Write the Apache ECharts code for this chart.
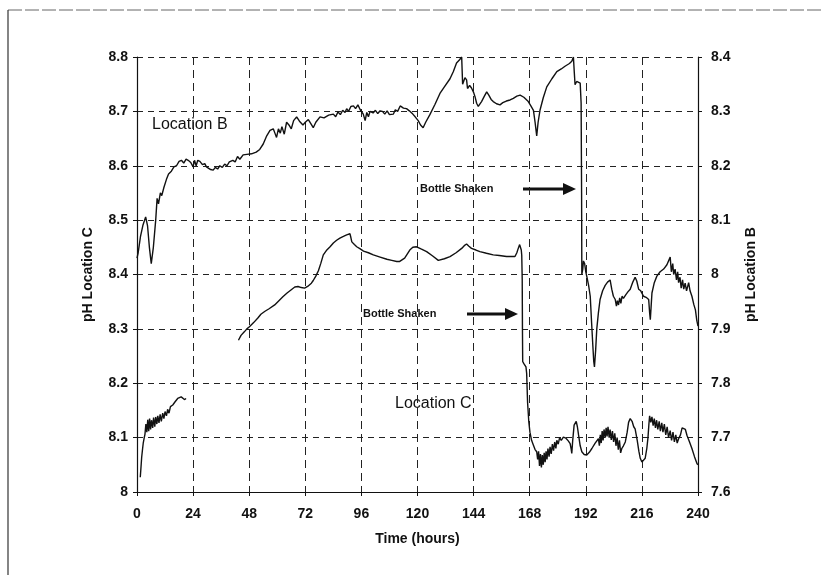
<!DOCTYPE html>
<html>
<head>
<meta charset="utf-8">
<script src="https://cdn.jsdelivr.net/npm/echarts@6/dist/echarts.min.js"></script>
<style>html,body{margin:0;padding:0;background:#fff}#c{width:821px;height:575px}</style>
</head>
<body>
<div id="c"></div>
<script>
// X ticks
const xTicks = [0, 24, 48, 72, 96, 120, 144, 168, 192, 216, 240];
// Location B (right axis, pH units of the right axis)
const timeB = [0,0.5,1.5,2.5,3.7,4.5,5.3,6.1,7,8,8.6,9.2,10,10.6,11.5,12.6,13.5,14.7,15.8,16.9,18,19,20,21,21.9,23,24,24.6,25.3,26,26.9,28,29,29.7,30.5,31.5,32.6,33.5,34.5,35.4,36.5,37.5,38.5,39.5,41,42,43,44,45.4,47,49,51,52.5,54,55.5,56.9,58.3,59,59.7,60.5,61.3,62,63,64,65,66,67,68.3,69.5,71,72,73.3,74.3,75.4,76.5,78.3,80,82,84,85,86,87,88,89,89.7,90.5,91.5,92.6,93.5,94.5,95.5,96,96.8,97.6,98.3,99,99.7,101,102,103,104,105,106,107,108,109.7,110.5,111.5,112.6,114,115.3,116.5,118,119,120.3,121.3,122.4,123.5,125.3,127.5,129.6,131.5,133.9,135.3,136.7,138,138.9,139.3,139.6,140.3,141,141.4,141.7,142.3,143.1,144,144.6,145.3,146,146.7,147.4,148.5,149.6,150.5,151.5,152.4,153.8,155.3,156.5,158,159.6,161,162.5,163.9,165.5,167.4,168.5,169.6,170.3,171,171.6,172.4,173.8,175.3,177.5,179.6,181.5,183.1,185,186,186.7,187.1,187.4,188.1,189.6,190,190.2,190.3,190.7,191,191.5,192,192.4,193.2,193.9,194.5,195,195.4,195.7,196.2,196.7,197.4,198.1,199.2,200.3,201.3,202.4,203.1,203.8,204.6,205.1,205.5,206,206.5,207,207.5,208.1,209,210,211,212,213.1,213.8,214.6,215.5,216.7,217.8,218.9,219.3,219.6,220,220.3,221.3,222.4,223.8,225.3,226.7,228.1,228.6,229.2,229.6,230.2,230.8,231.3,231.7,232.3,232.8,233.4,233.9,234.5,235.1,236,236.6,237.4,238.2,238.9,239.5,240];
const phB = [8.03,8.04,8.07,8.09,8.106,8.09,8.05,8.02,8.05,8.10,8.14,8.13,8.15,8.145,8.16,8.175,8.185,8.19,8.198,8.2,8.208,8.21,8.205,8.212,8.21,8.206,8.198,8.21,8.2,8.21,8.208,8.202,8.204,8.198,8.196,8.193,8.192,8.197,8.194,8.2,8.197,8.203,8.2,8.207,8.21,8.207,8.217,8.212,8.22,8.221,8.222,8.225,8.23,8.24,8.255,8.265,8.268,8.26,8.252,8.268,8.26,8.272,8.258,8.28,8.275,8.268,8.283,8.29,8.282,8.275,8.28,8.285,8.278,8.27,8.28,8.29,8.288,8.293,8.295,8.29,8.299,8.294,8.302,8.298,8.305,8.3,8.309,8.31,8.305,8.312,8.303,8.305,8.295,8.283,8.298,8.29,8.3,8.297,8.302,8.296,8.301,8.3,8.295,8.301,8.294,8.295,8.303,8.3,8.31,8.306,8.305,8.301,8.295,8.29,8.283,8.275,8.27,8.28,8.294,8.313,8.333,8.345,8.36,8.373,8.389,8.395,8.4,8.35,8.349,8.362,8.358,8.342,8.34,8.348,8.343,8.335,8.327,8.315,8.309,8.312,8.318,8.327,8.336,8.33,8.322,8.318,8.314,8.312,8.316,8.319,8.321,8.324,8.328,8.33,8.326,8.318,8.31,8.302,8.28,8.255,8.28,8.302,8.325,8.345,8.36,8.373,8.378,8.383,8.388,8.392,8.4,8.37,8.349,8.355,8.352,8.315,8.15,8.0,8.01,8.025,8.02,8.005,7.997,7.98,7.96,7.91,7.87,7.84,7.83,7.86,7.9,7.93,7.954,7.97,7.98,7.986,7.99,7.973,7.96,7.954,7.942,7.952,7.944,7.957,7.947,7.96,7.956,7.962,7.968,7.973,7.985,7.995,7.988,7.973,7.97,7.96,7.958,7.954,7.93,7.917,7.945,7.966,7.985,7.997,8.005,8.01,8.018,8.032,8.005,8.02,8.0,8.01,7.99,8.005,7.985,7.995,7.975,7.99,7.973,7.984,7.97,7.985,7.97,7.96,7.945,7.935,7.915,7.905];
// Location C (left axis); null marks the gap in the record
const timeC = [1.4,1.7,2,2.4,2.7,3.1,3.4,3.8,4.2,4.6,5,5.4,5.8,6.2,6.7,7.1,7.6,8,8.5,8.9,9.4,9.9,10.4,11,11.5,12,12.6,13.1,13.7,14.3,15.3,16.3,17.4,18.2,18.9,19.6,20.3,21,32,43.4,44.5,46,47,48.1,50,51.7,53,54.6,56.5,58.9,60.5,62.4,64.2,66,67.5,68.9,70.3,71.7,73,74.6,75.4,76.5,77.6,78.6,79.7,81,82.6,84,85.4,86.8,88.3,89.7,91.1,91.5,91.9,93,94,95.5,96.9,99,101.1,104,106.9,109,111.1,112.4,114.5,116.7,118,119.6,121.5,123.9,126.5,128.9,131.5,133.9,136.5,138.9,140,141,142,143.1,145,146.7,149.5,152.4,155,158.1,160,161.7,162.5,163.1,163.7,164.1,164.4,164.6,164.8,164.9,165,165.5,166,166.4,166.7,167.1,167.6,168.1,168.8,169.6,170.3,171,171.4,171.8,172.2,172.6,173,173.4,173.8,174.2,174.6,175,175.4,175.8,176.3,176.7,177.2,177.7,178.2,178.7,179.2,179.6,180.2,180.8,181.5,182.4,183.5,184.5,185.3,185.7,186,186.4,187,187.9,188.4,188.9,189.6,190.3,191.3,192.4,193.5,194.6,196,197.4,197.8,198.2,198.6,199,199.4,199.8,200.3,200.7,201.1,201.5,202,202.4,202.9,203.4,203.9,204.4,204.9,205.4,205.9,206.4,206.9,207.4,208.1,208.9,209.7,210.3,211,211.8,212.5,213.1,214,214.7,215.3,216,216.7,217.4,218.1,218.6,219,219.3,219.8,220.3,220.8,221.3,221.8,222.3,222.8,223.4,223.9,224.5,225,225.6,226.2,226.8,227.4,228.1,228.7,229.3,229.9,230.5,231.1,231.7,232.5,233.2,233.9,234.6,235.3,236.3,237.4,238.5,239.6,240];
const phC = [8.027,8.045,8.064,8.08,8.091,8.1,8.106,8.125,8.11,8.133,8.112,8.135,8.115,8.132,8.118,8.137,8.12,8.138,8.125,8.14,8.127,8.143,8.13,8.145,8.135,8.148,8.14,8.152,8.145,8.157,8.16,8.166,8.172,8.174,8.175,8.173,8.17,8.172,null,8.279,8.288,8.295,8.3,8.304,8.312,8.32,8.327,8.332,8.337,8.344,8.351,8.359,8.366,8.372,8.377,8.378,8.376,8.375,8.378,8.384,8.389,8.397,8.407,8.42,8.436,8.444,8.451,8.458,8.463,8.467,8.47,8.473,8.475,8.468,8.46,8.455,8.451,8.447,8.443,8.44,8.436,8.432,8.428,8.426,8.424,8.424,8.43,8.445,8.45,8.451,8.447,8.442,8.434,8.426,8.429,8.433,8.44,8.448,8.453,8.456,8.452,8.448,8.445,8.442,8.439,8.436,8.435,8.433,8.433,8.433,8.44,8.448,8.455,8.456,8.445,8.435,8.39,8.3,8.24,8.236,8.237,8.23,8.218,8.164,8.13,8.11,8.095,8.086,8.078,8.074,8.06,8.075,8.048,8.07,8.045,8.068,8.05,8.072,8.055,8.075,8.06,8.08,8.065,8.083,8.07,8.088,8.076,8.092,8.08,8.095,8.088,8.1,8.095,8.101,8.099,8.094,8.089,8.08,8.071,8.095,8.123,8.13,8.12,8.105,8.085,8.074,8.069,8.068,8.073,8.08,8.09,8.098,8.085,8.105,8.09,8.112,8.095,8.115,8.1,8.118,8.102,8.12,8.1,8.115,8.096,8.112,8.092,8.108,8.085,8.1,8.078,8.095,8.072,8.08,8.085,8.092,8.11,8.128,8.135,8.13,8.12,8.116,8.095,8.075,8.062,8.055,8.052,8.062,8.08,8.1,8.125,8.14,8.128,8.138,8.122,8.135,8.118,8.132,8.115,8.13,8.112,8.127,8.11,8.125,8.105,8.12,8.1,8.113,8.095,8.11,8.092,8.105,8.09,8.098,8.105,8.118,8.12,8.115,8.104,8.093,8.08,8.065,8.052,8.05];

const FONT = "'Liberation Sans', Arial, sans-serif";
const seriesB = timeB.map((t, i) => [t, phB[i]]);
const seriesC = timeC.map((t, i) => [t, phC[i]]);

const chart = echarts.init(document.getElementById('c'), null, {renderer: 'canvas'});
const gridDash = {type: [6, 5], color: '#222', width: 1};
const labelStyle = {color: '#111', fontFamily: FONT, fontWeight: 'bold', fontSize: 14};
chart.setOption({
  animation: false,
  backgroundColor: '#fff',
  grid: {left: 137, right: 123, top: 57, bottom: 83},
  xAxis: {
    type: 'value', min: xTicks[0], max: xTicks[xTicks.length - 1], interval: 24,
    name: 'Time (hours)', nameLocation: 'middle', nameGap: 40,
    nameTextStyle: labelStyle,
    axisLine: {lineStyle: {color: '#111', width: 1.2}},
    axisTick: {length: 4, lineStyle: {color: '#111'}},
    axisLabel: Object.assign({margin: 15}, labelStyle),
    splitLine: {show: true, lineStyle: {type: [8, 5], color: '#222', width: 1}}
  },
  yAxis: [{
    type: 'value', min: 8, max: 8.8, interval: 0.1, position: 'left',
    name: 'pH Location C', nameLocation: 'middle', nameGap: 42,
    nameTextStyle: labelStyle,
    axisLine: {show: true, lineStyle: {color: '#111', width: 1.2}},
    axisTick: {show: true, length: 4, lineStyle: {color: '#111'}},
    axisLabel: Object.assign({margin: 9}, labelStyle),
    splitLine: {show: true, lineStyle: gridDash}
  }, {
    type: 'value', min: 7.6, max: 8.4, interval: 0.1, position: 'right',
    name: 'pH Location B', nameLocation: 'middle', nameGap: 46, nameRotate: 90,
    nameTextStyle: labelStyle,
    axisLine: {show: true, lineStyle: {color: '#111', width: 1.2}},
    axisTick: {show: true, length: 4, lineStyle: {color: '#111'}},
    axisLabel: Object.assign({margin: 13}, labelStyle),
    splitLine: {show: false}
  }],
  series: [{
    name: 'Location B', type: 'line', yAxisIndex: 1, data: seriesB,
    showSymbol: false, symbol: 'none', lineStyle: {color: '#111', width: 1.4}
  }, {
    name: 'Location C', type: 'line', yAxisIndex: 0, data: seriesC,
    showSymbol: false, symbol: 'none', connectNulls: false, lineStyle: {color: '#111', width: 1.4}
  }],
  graphic: [
    {type: 'line', shape: {x1: 8, y1: 10, x2: 821, y2: 10}, style: {stroke: '#666', lineWidth: 1, lineDash: [14, 3]}},
    {type: 'line', shape: {x1: 8, y1: 10, x2: 8, y2: 575}, style: {stroke: '#333', lineWidth: 1.2}},
    {type: 'text', left: 152, top: 117, style: {text: 'Location B', fill: '#111', font: '16px ' + FONT}},
    {type: 'text', left: 395, top: 396, style: {text: 'Location C', fill: '#111', font: '16px ' + FONT}},
    {type: 'text', left: 420, top: 183, style: {text: 'Bottle Shaken', fill: '#111', font: 'bold 11px ' + FONT}},
    {type: 'line', shape: {x1: 523, y1: 189, x2: 565, y2: 189}, style: {stroke: '#111', lineWidth: 3}},
    {type: 'polygon', shape: {points: [[563, 183], [576, 189], [563, 195]]}, style: {fill: '#111'}},
    {type: 'text', left: 363, top: 308, style: {text: 'Bottle Shaken', fill: '#111', font: 'bold 11px ' + FONT}},
    {type: 'line', shape: {x1: 467, y1: 314, x2: 507, y2: 314}, style: {stroke: '#111', lineWidth: 3}},
    {type: 'polygon', shape: {points: [[505, 308], [518, 314], [505, 320]]}, style: {fill: '#111'}}
  ]
});
</script>
</body>
</html>
